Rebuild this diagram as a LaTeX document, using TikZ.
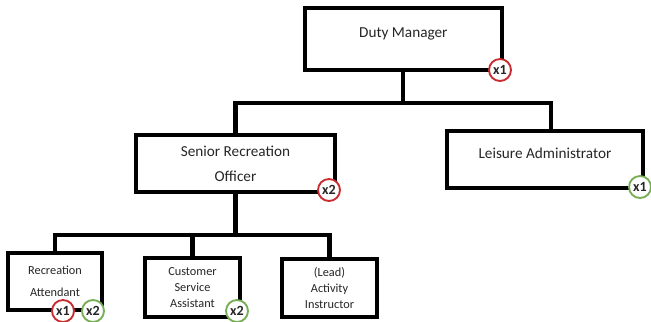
\documentclass[tikz,border=0pt]{standalone}
\usepackage{fontspec}
\setmainfont{Carlito}
\usetikzlibrary{positioning,calc}

\definecolor{badgeRed}{RGB}{200,45,50}
\definecolor{badgeGreen}{RGB}{120,175,85}

\begin{document}
\begin{tikzpicture}[
    role/.style={draw, rectangle, line width=3.2pt, minimum width=5.9cm, minimum height=1.75cm, inner sep=0pt, fill=white, align=center, font=\fontsize{13}{16}\selectfont, text=black!85},
    smallrole/.style={role, minimum width=2.85cm, font=\fontsize{10.5}{13.5}\selectfont},
    badge/.style={draw, circle, line width=1.6pt, minimum size=0.66cm, inner sep=0pt, fill=white, font=\fontsize{12}{13}\selectfont\bfseries, text=black!85},
    redbadge/.style={badge, draw=badgeRed},
    greenbadge/.style={badge, draw=badgeGreen},
    link/.style={line width=3.6pt, draw=black},
]

\useasboundingbox (0,0) rectangle (19.53,-9.63);

% Top level
\node[role, minimum height=1.86cm, text depth=0.4cm] (duty) at (12.1, -1.17) {Duty Manager};

% Middle level
\node[role, minimum width=5.97cm, minimum height=1.71cm] (senior) at (7.065, -4.905) {Senior Recreation\\[5pt]Officer};
\node[role, minimum width=5.88cm, minimum height=1.71cm, text depth=0.4cm] (leisure) at (16.35, -4.785) {Leisure Administrator};

% Bottom level
\node[smallrole, minimum width=2.82cm, minimum height=1.71cm] (attendant) at (1.65, -8.445) {Recreation\\[5pt]Attendant};
\node[smallrole, minimum height=1.77cm] (service) at (5.775, -8.625) {Customer\\Service\\Assistant};
\node[smallrole, minimum height=1.74cm] (instructor) at (9.885, -8.64) {(Lead)\\Activity\\Instructor};

% Bus bars
\coordinate (topbus) at (12.1, -3.09);
\coordinate (lowbus) at (7.065, -7.05);

% Links
\draw[link] (duty) -- (topbus);
\draw[link] (senior) |- (topbus) -| ([xshift=0.18cm]leisure.north);
\draw[link] (senior) -- (lowbus);
\draw[link] (attendant) |- (lowbus) -| (instructor);
\draw[link] (lowbus -| service) -- (service);

% Head counts
\node[redbadge] (dutyN) at (15.0, -2.1) {x1};
\node[redbadge] (seniorN) at (9.87, -5.7) {x2};
\node[greenbadge] (leisureN) at (19.2, -5.61) {x1};
\node[redbadge] (attendantN) at (1.89, -9.33) {x1};
\node[greenbadge] (attendantM) at (2.79, -9.33) {x2};
\node[greenbadge] (serviceN) at (7.11, -9.33) {x2};

\end{tikzpicture}
\end{document}
